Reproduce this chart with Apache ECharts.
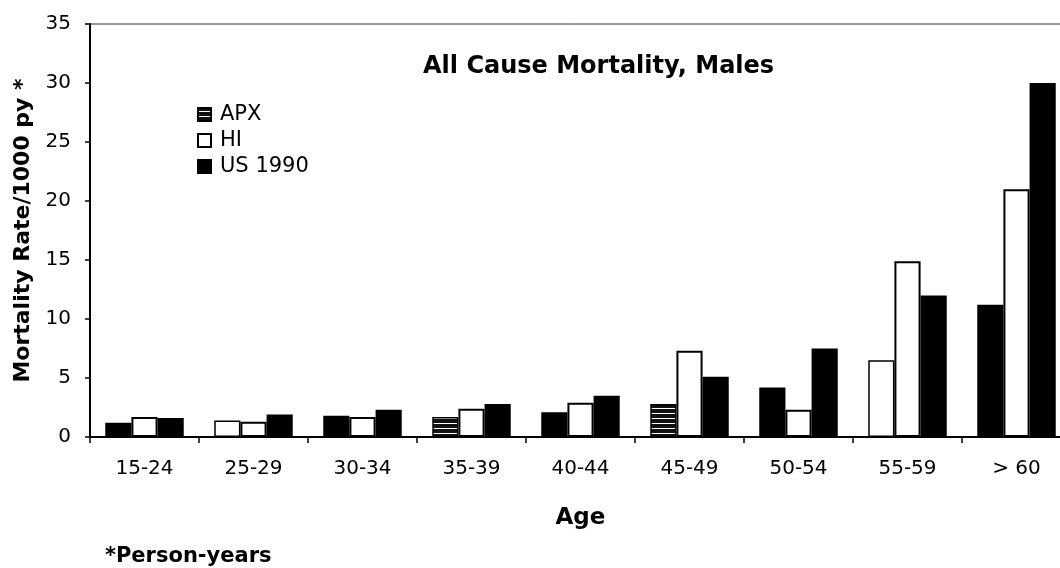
<!DOCTYPE html>
<html>
<head>
<meta charset="utf-8">
<script src="https://cdn.jsdelivr.net/npm/echarts@6/dist/echarts.min.js"></script>
<style>
  html, body { margin: 0; padding: 0; background: #fff; }
  #main { width: 1060px; height: 568px; }
</style>
</head>
<body>
<div id="main"></div>
<script>
var ages = ['15-24', '25-29', '30-34', '35-39', '40-44', '45-49', '50-54', '55-59', '> 60'];
var apxValues = [1.2, 1.4, 1.8, 1.7, 2.1, 2.8, 4.2, 6.5, 11.2];
var hiValues = [1.7, 1.3, 1.7, 2.4, 2.9, 7.3, 2.3, 14.9, 21.0];
var usValues = [1.6, 1.9, 2.3, 2.8, 3.5, 5.1, 7.5, 12.0, 30.0];
var yTicks = [0, 5, 10, 15, 20, 25, 30, 35];

// how each APX bar came out in the scanned figure
var apxFill = ['black', 'white', 'black', 'stripe', 'black', 'stripe', 'black', 'white', 'black'];

var font = 'DejaVu Sans';

// dark fill with white horizontal lines
function stripes() {
    var c = document.createElement('canvas');
    c.width = 4;
    c.height = 5;
    var ctx = c.getContext('2d');
    ctx.fillStyle = '#111';
    ctx.fillRect(0, 0, 4, 5);
    ctx.fillStyle = '#fff';
    ctx.fillRect(0, 3, 4, 1);
    return { image: c, repeat: 'repeat' };
}
var stripeFill = stripes();
var fills = { black: '#000', white: '#fff', stripe: stripeFill };

var apxData = apxValues.map(function (v, i) {
    return { value: v, itemStyle: { color: fills[apxFill[i]] } };
});

var myChart = echarts.init(document.getElementById('main'));

var option = {
    animation: false,
    backgroundColor: '#fff',
    title: [
        {
            text: 'All Cause Mortality, Males',
            left: 423,
            top: 55,
            padding: 0,
            textStyle: { fontFamily: font, fontWeight: 'bold', fontSize: 24, color: '#000' }
        },
        {
            text: '*Person-years',
            left: 105,
            top: 546,
            padding: 0,
            textStyle: { fontFamily: font, fontWeight: 'bold', fontSize: 21, color: '#000' }
        }
    ],
    legend: {
        orient: 'vertical',
        left: 197,
        top: 104,
        padding: 0,
        itemWidth: 13,
        itemHeight: 13,
        itemGap: 5,
        icon: 'rect',
        selectedMode: false,
        data: ['APX', 'HI', 'US 1990'],
        textStyle: { fontFamily: font, fontSize: 21, color: '#000', lineHeight: 21, padding: [0, 0, 0, 4] }
    },
    grid: {
        left: 90,
        top: 24,
        width: 981,
        height: 413,
        outerBoundsMode: 'none',
        containLabel: false,
        show: true,
        borderColor: '#333',
        borderWidth: 1
    },
    xAxis: {
        type: 'category',
        data: ages,
        name: 'Age',
        nameLocation: 'middle',
        nameGap: 70,
        nameTextStyle: { fontFamily: font, fontWeight: 'bold', fontSize: 23, color: '#000' },
        axisLine: { show: true, lineStyle: { color: '#000', width: 2 } },
        axisTick: { show: true, length: 6, lineStyle: { color: '#000', width: 1.5 } },
        axisLabel: { margin: 22, fontFamily: font, fontSize: 20, color: '#000' }
    },
    yAxis: {
        type: 'value',
        min: yTicks[0],
        max: yTicks[yTicks.length - 1],
        interval: yTicks[1] - yTicks[0],
        name: 'Mortality Rate/1000 py *',
        nameLocation: 'middle',
        nameRotate: 90,
        nameGap: 52,
        nameTextStyle: { fontFamily: font, fontWeight: 'bold', fontSize: 22, color: '#000' },
        axisLine: { show: true, lineStyle: { color: '#000', width: 2 } },
        axisTick: { show: true, length: 5, lineStyle: { color: '#000', width: 1.5 } },
        axisLabel: { margin: 19, fontFamily: font, fontSize: 20, color: '#000' },
        splitLine: { show: false }
    },
    series: [
        {
            name: 'APX',
            type: 'bar',
            barGap: '0%',
            barCategoryGap: '28%',
            itemStyle: { color: stripeFill, borderColor: '#000', borderWidth: 1.5 },
            data: apxData
        },
        {
            name: 'HI',
            type: 'bar',
            barGap: '0%',
            barCategoryGap: '28%',
            itemStyle: { color: '#fff', borderColor: '#000', borderWidth: 2 },
            data: hiValues
        },
        {
            name: 'US 1990',
            type: 'bar',
            barGap: '0%',
            barCategoryGap: '28%',
            itemStyle: { color: '#000', borderColor: '#000', borderWidth: 1.5 },
            data: usValues
        }
    ]
};
myChart.setOption(option);
</script>
</body>
</html>
